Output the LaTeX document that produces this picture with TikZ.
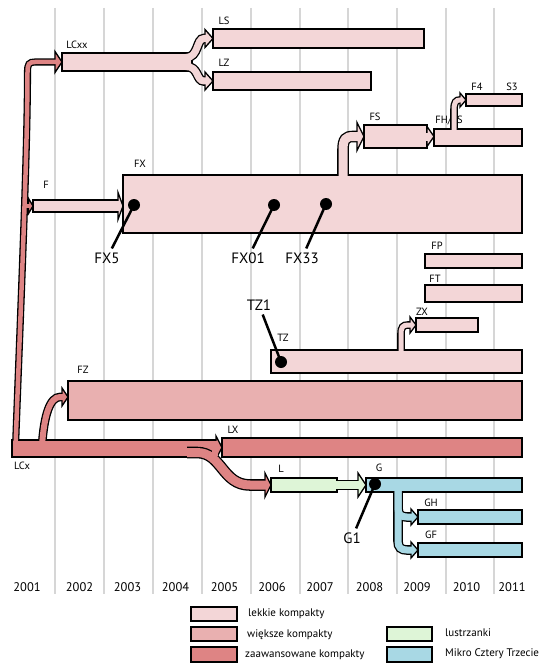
\documentclass[tikz,border=0pt]{standalone}
\usepackage{fontspec}
\setmainfont{PT Sans}
\usetikzlibrary{calc}
\pgfdeclarelayer{grid}
\pgfdeclarelayer{bandback}
\pgfdeclarelayer{heads}
\pgfdeclarelayer{bandfront}
\pgfdeclarelayer{top}
\pgfsetlayers{grid,bandback,main,heads,bandfront,top}

\definecolor{cLight}{HTML}{F3D6D7}
\definecolor{cMed}{HTML}{E9B0B0}
\definecolor{cDark}{HTML}{DE8484}
\definecolor{cGreen}{HTML}{DEF5D7}
\definecolor{cBlue}{HTML}{A8D8E4}
\definecolor{cGrid}{HTML}{D6D6D6}

\tikzset{
  bar/.style={draw=black, line width=1.3pt, rectangle, inner sep=0pt, outer sep=0pt, anchor=north west},
  small/.style={font=\fontsize{10.5}{12}\selectfont, inner sep=1pt},
  big/.style={font=\fontsize{15}{18}\selectfont, inner sep=4pt},
  yearlab/.style={font=\fontsize{12.5}{14}\selectfont, inner sep=1pt},
  legendlab/.style={font=\fontsize{11}{13}\selectfont, anchor=west, inner sep=0pt},
  callout/.style={line width=2.5pt, black},
  pin/.style={circle, fill=black, inner sep=0pt, minimum size=12pt},
}

\newcommand\mybar[6]{\node[bar, fill=#2, minimum width={(#5-#3)*1pt}, minimum height={(#6-#4)*1pt}] (#1) at (#3,#4) {};}
\newcommand\flowband[3]{%
  \begin{pgfonlayer}{bandback}\draw[black, line width={#2*1pt+2.6pt}] #3;\end{pgfonlayer}%
  \begin{pgfonlayer}{bandfront}\draw[#1, line width={#2*1pt}] #3;\end{pgfonlayer}}
\newcommand\flowhead[4]{%
  \begin{pgfonlayer}{heads}\filldraw[fill=#1, draw=black, line width=1.3pt, line join=miter] #2 -- ++(-#3,-#4) -- ++(0,{2*#4}) -- cycle;\end{pgfonlayer}}

\begin{document}
\begin{tikzpicture}[x=1pt,y=-1pt]
\useasboundingbox (0,0) rectangle (550,666);

% grid
\begin{pgfonlayer}{grid}
\foreach \gx in {55,104,153,202,251,300,348,397,446,494}
  \draw[cGrid, line width=1.3pt] (\gx,8) -- (\gx,594);
\end{pgfonlayer}

% years
\foreach \yr/\yx in {2001/27,2002/79.5,2003/127.5,2004/175.5,2005/224.5,2006/272,2007/320,2008/369.5,2009/417,2010/466.5,2011/512}
  \node[yearlab] (y\yr) at (\yx,587.5) {\yr};

% boxes
\mybar{LCxx}{cLight}{62}{53}{192}{71}
\mybar{LS}{cLight}{213}{29}{424}{48}
\mybar{LZ}{cLight}{213}{72}{371}{90}
\mybar{F}{cLight}{33}{200}{118}{212}
\mybar{FX}{cLight}{123}{175}{522}{233}
\mybar{FS}{cLight}{364}{125}{427}{148}
\mybar{FHFS}{cLight}{434}{129}{522}{146}
\mybar{F4}{cLight}{466}{94}{522}{106}
\mybar{FP}{cLight}{425}{254}{522}{268}
\mybar{FT}{cLight}{425}{285}{522}{302}
\mybar{ZX}{cLight}{416}{318}{478}{332}
\mybar{TZ}{cLight}{271}{350}{522}{373}
\mybar{FZ}{cMed}{68}{381}{522}{420}
\mybar{LX}{cDark}{222}{438}{522}{457}
\mybar{LCx}{cDark}{12}{440}{216}{457}
\mybar{L}{cGreen}{271}{478}{337}{492}
\mybar{G}{cBlue}{366}{478}{522}{492}
\mybar{GH}{cBlue}{418}{510}{522}{524}
\mybar{GF}{cBlue}{418}{543}{522}{557}

% small labels
\node[small] (tLCxx) at (77,45) {LCxx};
\node[small] (tLS) at (224,21) {LS};
\node[small] (tLZ) at (224,63) {LZ};
\node[small] (tF) at (46,185) {F};
\node[small] (tFX) at (140,164) {FX};
\node[small] (tFS) at (375,117) {FS};
\node[small] (tFHFS) at (449,120) {FH/FS};
\node[small] (tF4) at (477,87) {F4};
\node[small] (tS3) at (512,87) {S3};
\node[small] (tFP) at (437,246) {FP};
\node[small] (tFT) at (435,279) {FT};
\node[small] (tZX) at (422,312) {ZX};
\node[small] (tTZ) at (283,338) {TZ};
\node[small] (tFZ) at (83,370) {FZ};
\node[small] (tLX) at (233,430) {LX};
\node[small] (tLCx) at (22,466) {LCx};
\node[small] (tL) at (281,469) {L};
\node[small] (tG) at (379,468) {G};
\node[small] (tGH) at (431,503) {GH};
\node[small] (tGF) at (431,535) {GF};

% flows
% trunk LCx -> LCxx
\flowband{cDark}{4.5}{(15.5,447) .. controls (21,300) and (27.5,150) .. (27.5,72) .. controls (27.5,64) and (29,62) .. (35,62) -- (56.5,62)}
\flowhead{cDark}{(LCxx.west)}{7}{10.5}
% trunk -> F
\flowband{cDark}{4}{(24,206) -- (30.5,206)}
\flowhead{cDark}{(F.west)}{4.5}{7.5}
% F -> FX
\flowband{cLight}{10.4}{($(F.east)+(-4,0)$) -- ($(F.east)+(1.5,0)$)}
\flowhead{cLight}{($(F.east)+(5,0)$)}{5}{13.5}
% LCx -> LX
\flowband{cDark}{15.4}{($(LCx.east)+(-4,0)$) -- ($(LCx.east)+(1.5,0)$)}
\flowhead{cDark}{(LX.west)}{6}{11.5}
% LCx -> FZ
\flowband{cDark}{6}{(42,446) .. controls (44,415) and (50,397) .. (60,397) -- (63.5,397)}
\flowhead{cDark}{($(FZ.west)+(0,-3.5)$)}{6}{9}
% LCx -> L (edge visible inside the bar)
\begin{pgfonlayer}{heads}
\draw[black, line width=11.6pt] (187,452.5) -- (197,452.5) .. controls (222,452.5) and (222,485) .. (250,485) -- (266.5,485);
\end{pgfonlayer}
\flowhead{cDark}{(L.west)}{6}{12}
\begin{pgfonlayer}{bandfront}
\draw[cDark, line width=9pt] (187,452.5) -- (197,452.5) .. controls (222,452.5) and (222,485) .. (250,485) -- (266.5,485);
\end{pgfonlayer}
% LCxx -> LS, LZ
\flowband{cLight}{7}{(186,57.5) .. controls (199,57.5) and (196,38.5) .. (204,38.5) -- (206.5,38.5)}
\flowhead{cLight}{(LS.west)}{8}{9}
\flowband{cLight}{7}{(186,66.5) .. controls (199,66.5) and (196,81) .. (204,81) -- (206.5,81)}
\flowhead{cLight}{(LZ.west)}{8}{9}
% FX -> FS
\flowband{cLight}{9}{(343,178) -- (343,150) .. controls (343,139) and (346,136.5) .. (353,136.5) -- (358.5,136.5)}
\flowhead{cLight}{(FS.west)}{7}{14}
% FS -> FH/FS
\flowband{cLight}{8}{($(FS.east)+(-4,0)$) -- ($(FS.east)+(1.5,0)$)}
\flowhead{cLight}{($(FS.east)+(7,0)$)}{7}{10}
% FH/FS -> F4
\flowband{cLight}{5}{(454,131) -- (454,110) .. controls (454,102) and (456,100) .. (460,100) -- (461.5,100)}
\flowhead{cLight}{(F4.west)}{6}{7}
% TZ -> ZX
\flowband{cLight}{5}{(401,352) -- (401,334) .. controls (401,327) and (403,325) .. (408,325) -- (411.5,325)}
\flowhead{cLight}{(ZX.west)}{6}{8}
% L -> G
\flowband{cGreen}{8}{($(L.east)+(-4,0)$) -- ($(G.west)+(-6.5,0)$)}
\flowhead{cGreen}{(G.west)}{8}{12}
% G -> GH, GF
\flowband{cBlue}{7}{(398,489) -- (398,508) .. controls (398,514.5) and (401,517) .. (407,517) -- (412.5,517)}
\flowhead{cBlue}{(GH.west)}{7}{8}
\flowband{cBlue}{7}{(398,489) -- (398,541) .. controls (398,547.5) and (401,550) .. (407,550) -- (412.5,550)}
\flowhead{cBlue}{(GF.west)}{7}{8}

% callouts
\node[big] (FX5lab) at (107,258) {FX5};
\node[big] (FX01lab) at (248,258) {FX01};
\node[big] (FX33lab) at (302,258) {FX33};
\node[big] (TZ1lab) at (259,305) {TZ1};
\node[big] (G1lab) at (352,538) {G1};
\begin{pgfonlayer}{top}
\node[pin] (dFX5) at (134,205) {};
\node[pin] (dFX01) at (274,205) {};
\node[pin] (dFX33) at (326,204) {};
\node[pin] (dTZ1) at (281,362) {};
\node[pin] (dG1) at (375,484) {};
\draw[callout] (dFX5.center) -- (FX5lab);
\draw[callout] (dFX01.center) -- (FX01lab);
\draw[callout] (dFX33.center) -- (FX33lab);
\draw[callout] (dTZ1.center) -- (TZ1lab);
\draw[callout] (dG1.center) -- (G1lab);
\end{pgfonlayer}

% legend
\mybar{lg1}{cLight}{191}{607}{237}{621}
\mybar{lg2}{cMed}{191}{627}{237}{641}
\mybar{lg3}{cDark}{191}{647}{237}{662}
\mybar{lg4}{cGreen}{387}{627}{432}{641}
\mybar{lg5}{cBlue}{387}{647}{432}{662}
\node[legendlab] (lt1) at (248,614) {lekkie kompakty};
\node[legendlab] (lt2) at (247,634.5) {większe kompakty};
\node[legendlab] (lt3) at (245,654.5) {zaawansowane kompakty};
\node[legendlab] (lt4) at (445,633) {lustrzanki};
\node[legendlab] (lt5) at (445,654) {Mikro Cztery Trzecie};
\end{tikzpicture}
\end{document}
